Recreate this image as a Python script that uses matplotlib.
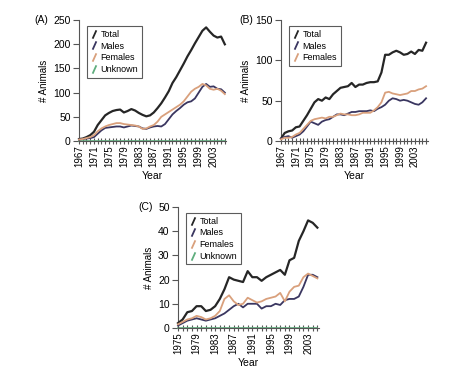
import matplotlib
matplotlib.use('Agg')
import matplotlib.pyplot as plt
from matplotlib.lines import Line2D
import numpy as np

plt.rcParams['font.family'] = ['Liberation Sans', 'DejaVu Sans']

# Panel A: 1967-2006
years_a = list(range(1967, 2007))
total_a = [4, 5, 8, 12, 19, 33, 43, 53, 58, 62, 64, 65, 59, 62, 66, 63, 58, 54, 51, 53,
           59, 68, 78, 90, 103, 120, 132, 146, 160, 175, 188, 202, 215, 228, 235, 226,
           218, 214, 216, 200]
males_a = [3, 4, 5, 6, 8, 15, 22, 27, 28, 29, 30, 30, 28, 30, 32, 31, 30, 26, 25, 28,
           30, 31, 30, 35, 45, 55, 62, 68, 75, 80, 82, 88, 100, 112, 118, 112, 113, 108,
           107, 100]
females_a = [3, 4, 6, 8, 12, 20, 26, 30, 33, 35, 37, 37, 35, 34, 33, 32, 30, 25, 26, 30,
             33, 40, 50, 55, 60, 65, 70, 75, 82, 92, 102, 108, 112, 118, 115, 108, 106,
             108, 104, 97]
unknown_a = [0] * len(years_a)

# Panel B: 1967-2006
years_b = list(range(1967, 2007))
total_b = [3, 10, 12, 13, 17, 18, 25, 32, 40, 48, 52, 50, 54, 52, 58, 62, 66, 67, 68, 72,
           67, 70, 70, 72, 73, 73, 74, 85, 107, 107, 110, 112, 110, 107, 108, 111, 108,
           113, 112, 122]
males_b = [3, 5, 6, 4, 6, 8, 12, 18, 24, 22, 20, 24, 26, 27, 30, 33, 33, 32, 34, 36, 36,
           37, 37, 37, 38, 37, 40, 42, 45, 50, 53, 52, 50, 51, 50, 48, 46, 45, 48, 53]
females_b = [2, 4, 4, 5, 8, 10, 15, 20, 25, 27, 28, 29, 28, 30, 30, 32, 34, 33, 33, 32,
             32, 33, 35, 35, 35, 38, 42, 48, 60, 61, 59, 58, 57, 58, 59, 62, 62, 64, 65, 68]

# Panel C: 1975-2005
years_c = list(range(1975, 2006))
total_c = [2, 3.5, 6.5, 7, 9, 9, 7, 7.5, 9, 12, 16, 21, 20, 19.5, 19, 23.5, 21, 21, 19.5,
           21, 22, 23, 24, 22, 28, 29, 36, 40, 44.5, 43.5, 41.5]
males_c = [1, 2, 3, 3.5, 4, 3.5, 3, 3.5, 4, 5, 6, 7.5, 9, 10, 8.5, 10, 10, 10, 8, 9, 9, 10,
           9.5, 11.5, 12, 12, 13, 17, 22, 22, 21]
females_c = [1.5, 2.5, 3.5, 4, 5, 4.5, 3.5, 4, 5, 7, 12, 13.5, 11, 9.5, 10, 12.5, 11.5,
             10.5, 11, 12, 12.5, 13, 14.5, 11, 15, 17, 17.5, 21, 22.5, 21.5, 20.5]
unknown_c = [0] * len(years_c)

c_total = '#262626'
c_males = '#3a3660'
c_females = '#d9a07c'
c_unknown = '#5fae7e'

slash = [(-0.45, -1), (0.45, 1)]


def handle(color):
    return Line2D([], [], linestyle='none', marker=slash, markersize=6,
                  markeredgecolor=color, markeredgewidth=1.3, markerfacecolor='none')


def panel(ax, years, series, xlim, xticks, ylim, yticks, letter, lx):
    labels, handles = [], []
    for name, vals, col, lw in series:
        ax.plot(years, vals, color=col, lw=lw, clip_on=False, zorder=3 if name != 'Unknown' else 2)
        labels.append(name)
        handles.append(handle(col))
    ax.set_xlim(*xlim)
    ax.set_ylim(*ylim)
    ax.set_xticks(xticks)
    ax.set_xticks(range(xlim[0], int(xlim[1]) + 1), minor=True)
    ax.set_xticklabels([str(t) for t in xticks], rotation=90, fontsize=7)
    ax.set_yticks(yticks)
    ax.set_yticklabels([str(t) for t in yticks], fontsize=7.5)
    ax.tick_params(axis='x', which='both', direction='inout', length=4, width=0.8,
                   color='#555555', pad=1)
    ax.tick_params(axis='y', direction='out', length=4, width=0.8, color='#555555', pad=2)
    for s in ('top', 'right'):
        ax.spines[s].set_visible(False)
    for s in ('left', 'bottom'):
        ax.spines[s].set_color('#555555')
        ax.spines[s].set_linewidth(0.8)
    ax.set_xlabel('Year', fontsize=7.5, labelpad=3)
    ax.set_ylabel('# Animals', fontsize=7, labelpad=3)
    ax.text(lx, 1.0, letter, transform=ax.transAxes, ha='right', va='center', fontsize=7.5)
    leg = ax.legend(handles, labels, loc='upper left', bbox_to_anchor=(0.055, 0.95),
                    borderaxespad=0, fontsize=6.5, handlelength=0.8, handletextpad=0.3,
                    labelspacing=0.3, borderpad=0.4, frameon=True, fancybox=False)
    leg.get_frame().set_edgecolor('#333333')
    leg.get_frame().set_linewidth(0.8)


fig = plt.figure(figsize=(4.74, 3.8), dpi=100)
ax_a = fig.add_axes([0.1667, 0.629, 0.310, 0.318])
ax_b = fig.add_axes([0.5928, 0.629, 0.310, 0.318])
ax_c = fig.add_axes([0.3755, 0.137, 0.297, 0.318])

panel(ax_a, years_a,
      [('Total', total_a, c_total, 1.6), ('Males', males_a, c_males, 1.3),
       ('Females', females_a, c_females, 1.3), ('Unknown', unknown_a, c_unknown, 1.2)],
      (1967, 2006.3), list(range(1967, 2004, 4)), (0, 250), [0, 50, 100, 150, 200, 250],
      '(A)', -0.21)
panel(ax_b, years_b,
      [('Total', total_b, c_total, 1.6), ('Males', males_b, c_males, 1.3),
       ('Females', females_b, c_females, 1.3)],
      (1967, 2006.5), list(range(1967, 2004, 4)), (0, 150), [0, 50, 100, 150],
      '(B)', -0.19)
panel(ax_c, years_c,
      [('Total', total_c, c_total, 1.6), ('Males', males_c, c_males, 1.3),
       ('Females', females_c, c_females, 1.3), ('Unknown', unknown_c, c_unknown, 1.2)],
      (1975, 2005.3), list(range(1975, 2004, 4)), (0, 50), [0, 10, 20, 30, 40, 50],
      '(C)', -0.18)

fig.savefig('out.png', dpi=100)
